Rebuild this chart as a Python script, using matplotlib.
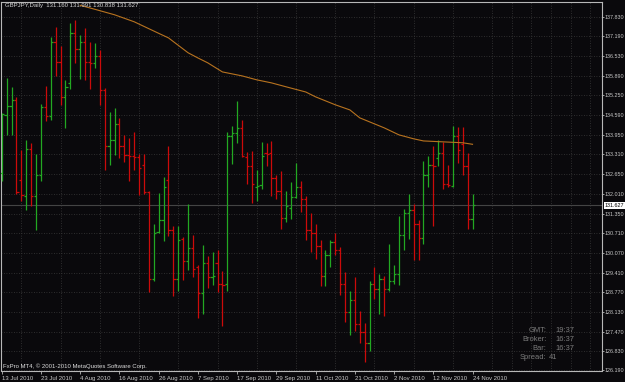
import numpy as np
import matplotlib
matplotlib.use("Agg")
import matplotlib.pyplot as plt
from matplotlib import transforms

# ---------------- data (GBPJPY daily, 13 Jul 2010 .. 24 Nov 2010) ----------------
opens = [132.68, 134.60, 134.90, 135.09, 132.46, 131.94, 133.47, 131.94, 132.63, 134.85,
         134.55, 136.98, 136.35, 135.20, 135.64, 137.28, 136.76, 136.98, 136.35, 136.32,
         136.54, 135.42, 133.58, 133.78, 134.30, 133.56, 133.29, 133.25, 133.21, 132.96,
         132.05, 129.20, 130.73, 131.13, 132.45, 130.82, 129.20, 130.51, 129.78, 130.22,
         129.61, 128.74, 129.72, 129.26, 129.72, 129.04, 129.04, 133.91, 134.00, 134.16,
         133.21, 132.90, 132.24, 132.30, 133.36, 133.34, 132.52, 132.10, 131.20, 131.53,
         131.89, 132.22, 131.83, 130.82, 130.71, 130.27, 129.31, 130.00, 130.40, 130.14,
         129.04, 128.10, 128.52, 127.73, 127.45, 127.09, 129.04, 128.87, 129.20, 128.87,
         129.15, 129.37, 130.64, 131.37, 131.46, 131.01, 130.55, 132.63, 132.96, 133.18,
         133.34, 132.32, 132.27, 133.91, 133.65, 132.92, 131.160]
highs = [134.65, 135.81, 135.51, 135.18, 133.43, 133.76, 133.67, 133.31, 134.96, 135.55,
         137.17, 137.50, 136.87, 135.75, 137.63, 137.72, 137.23, 137.45, 137.01, 136.96,
         136.74, 135.48, 134.68, 134.82, 134.49, 133.94, 133.83, 134.02, 133.32, 133.32,
         132.11, 131.02, 132.02, 132.54, 133.58, 130.93, 130.93, 130.58, 131.67, 130.66,
         129.67, 130.33, 129.97, 130.08, 130.14, 129.45, 134.05, 134.24, 135.04, 134.44,
         133.39, 133.42, 132.79, 133.72, 133.67, 133.75, 132.63, 132.74, 132.08, 132.38,
         133.01, 132.43, 131.92, 131.37, 131.02, 130.49, 130.16, 130.49, 130.71, 130.25,
         129.42, 128.79, 129.26, 128.14, 127.75, 129.15, 129.61, 129.37, 129.31, 130.35,
         129.67, 131.26, 131.50, 132.00, 131.67, 131.15, 133.07, 133.25, 133.56, 133.76,
         133.72, 132.96, 134.22, 134.19, 134.19, 133.36, 131.991]
lows = [132.41, 133.94, 133.94, 132.00, 131.75, 131.46, 131.59, 130.82, 132.41, 134.38,
        134.44, 135.86, 134.93, 134.16, 135.44, 136.30, 135.78, 135.75, 135.44, 136.13,
        134.93, 132.79, 132.96, 133.29, 133.18, 133.06, 132.41, 132.77, 131.97, 132.00,
        128.76, 129.12, 130.71, 130.44, 130.62, 128.65, 128.79, 129.18, 129.51, 129.26,
        127.92, 128.06, 128.90, 129.01, 128.76, 127.64, 128.79, 132.98, 133.67, 133.21,
        132.32, 131.70, 131.75, 132.16, 132.90, 131.94, 131.83, 130.84, 131.09, 131.17,
        131.86, 131.41, 130.47, 130.08, 129.86, 128.98, 128.98, 129.61, 130.00, 128.68,
        127.77, 127.37, 127.48, 127.09, 126.46, 126.82, 128.54, 128.06, 127.99, 128.79,
        129.03, 129.01, 130.14, 130.51, 129.81, 129.83, 130.35, 132.24, 130.95, 132.90,
        132.16, 132.22, 132.22, 133.01, 132.63, 130.84, 130.838]
closes = [134.63, 134.90, 135.09, 132.05, 131.97, 133.47, 131.94, 132.63, 134.85, 134.55,
          136.98, 136.35, 135.20, 135.51, 137.28, 136.76, 137.01, 136.35, 136.32, 136.54,
          135.42, 133.58, 133.78, 134.30, 133.56, 133.29, 133.25, 133.21, 132.85, 132.05,
          129.20, 130.71, 131.13, 132.24, 130.82, 129.20, 130.49, 129.78, 130.22, 129.53,
          128.74, 129.72, 129.26, 129.29, 129.04, 129.01, 133.91, 134.00, 134.16, 133.23,
          132.90, 132.33, 132.27, 133.23, 133.32, 132.52, 132.10, 131.20, 131.59, 131.89,
          132.22, 131.83, 130.82, 130.71, 130.27, 129.31, 130.00, 130.40, 130.14, 129.04,
          128.10, 128.52, 127.73, 127.45, 127.09, 129.04, 128.87, 129.20, 128.87, 129.15,
          129.37, 130.64, 131.37, 131.46, 131.01, 130.55, 132.63, 132.96, 132.92, 133.34,
          132.32, 132.30, 133.91, 133.45, 132.92, 131.17, 131.627]

# moving average : bar index -> price
ma_idx = [16, 19, 23, 27, 32, 34, 38, 40, 42, 45, 49, 52, 55, 58, 62, 64, 68, 71, 73,
          78, 81, 84, 86, 90, 94, 96]
ma_val = [138.20, 138.07, 137.89, 137.66, 137.28, 137.13, 136.64, 136.47, 136.31, 136.01,
          135.88, 135.75, 135.65, 135.52, 135.35, 135.19, 134.93, 134.76, 134.50,
          134.17, 133.94, 133.81, 133.74, 133.71, 133.68, 133.63]

date_pos = [0, 8, 16, 24, 32, 40, 48, 56, 64, 72, 80, 88, 96]
date_labels = ["13 Jul 2010", "23 Jul 2010", "4 Aug 2010", "16 Aug 2010", "26 Aug 2010",
               "7 Sep 2010", "17 Sep 2010", "29 Sep 2010", "11 Oct 2010", "21 Oct 2010",
               "2 Nov 2010", "12 Nov 2010", "24 Nov 2010"]

ytick_vals = [137.830, 137.190, 136.530, 135.890, 135.250, 134.590, 133.950, 133.310,
              132.650, 132.010, 131.350, 130.710, 130.070, 129.410, 128.770, 128.130,
              127.470, 126.830, 126.190]
ytick_labels = ["%.3f" % v for v in ytick_vals]

current_price = 131.627
title = "GBPJPY,Daily  131.160 131.991 130.838 131.627"
copyright_txt = "FxPro MT4, \u00a9 2001-2010 MetaQuotes Software Corp."
info_keys = ["GMT:", "Broker:", "Bar:", "Spread:"]
info_vals = ["19:37", "16:37", "16:37", "41"]

# ---------------- style ----------------
bg = "#0a090c"
up_col = "#22a822"
down_col = "#cc0a0a"
ma_col = "#b8731f"
grid_col = "#3a3a3a"
frame_col = "#b8b8b8"
txt_col = "#c8c8c8"
font = "Liberation Sans"
plt.rcParams["font.family"] = [font, "DejaVu Sans"]

W, H = 625, 382
fig = plt.figure(figsize=(W / 100, H / 100), dpi=100, facecolor=bg)
ax = fig.add_axes([1 / W, 1 - 370.5 / H, 601 / W, 368.5 / H])
ax.set_facecolor(bg)
ax.set_xlim(-0.15, 122.4)
ax.set_ylim(126.20, 138.31)

# bars
x = np.arange(len(opens))
o = np.array(opens); h = np.array(highs); l = np.array(lows); c = np.array(closes)
cols = [up_col if cc >= oo else down_col for oo, cc in zip(o, c)]
ax.vlines(x, l, h, colors=cols, lw=0.9, zorder=3)
ax.hlines(o, x - 0.45, x, colors=cols, lw=0.9, zorder=3)
ax.hlines(c, x, x + 0.45, colors=cols, lw=0.9, zorder=3)

# moving average
ax.plot(ma_idx, ma_val, color=ma_col, lw=0.8, zorder=4)

# current price line
ax.axhline(current_price, color="#444444", lw=0.8, zorder=1)

# grid
ax.set_yticks(ytick_vals)
ax.set_yticklabels(ytick_labels)
ax.set_xticks(date_pos)
ax.set_xticklabels(date_labels)
ax.set_xticks(np.arange(0, 124, 4), minor=True)
ax.grid(which="minor", axis="x", color=grid_col, lw=0.6, linestyle=(0, (1, 2)), zorder=0)
ax.grid(which="major", axis="y", color=grid_col, lw=0.6, linestyle=(0, (1, 2)), zorder=0)
ax.grid(which="major", axis="x", visible=False)

ax.yaxis.tick_right()
ax.tick_params(axis="y", which="both", direction="out", length=1.6, width=0.6,
               color=frame_col, labelsize=3.9, labelcolor=txt_col, pad=0.6)
ax.tick_params(axis="x", which="major", direction="out", length=2.5, width=0.6,
               color=frame_col, labelsize=4.3, labelcolor=txt_col, pad=1.2)
ax.tick_params(axis="x", which="minor", length=0)
for lbl in ax.get_xticklabels():
    lbl.set_horizontalalignment("left")

for s in ax.spines.values():
    s.set_color(frame_col)
    s.set_linewidth(0.8)

# current price tag on the price scale
blend = transforms.blended_transform_factory(ax.transAxes, ax.transData)
ax.text(1.0045, current_price, "%.3f" % current_price, transform=blend, ha="left",
        va="center", fontsize=3.9, color="#000000", clip_on=False, zorder=6,
        bbox=dict(boxstyle="square,pad=0.2", facecolor="#ffffff", edgecolor="none"))

# texts
fig.text(5 / W, 1 - 6 / H, title, ha="left", va="center", fontsize=4.3, color="#d4d4d4")
fig.text(3 / W, 1 - 366 / H, copyright_txt, ha="left", va="center", fontsize=4.3,
         color="#dcdcdc")
info_y = [330, 339.3, 348.3, 357.7]
info_vx = [555.5, 555.5, 555.5, 549.3]
for k, v, yy, vx in zip(info_keys, info_vals, info_y, info_vx):
    fig.text(546.5 / W, 1 - yy / H, k, ha="right", va="center", fontsize=5.4, color="#7c7c7c")
    fig.text(vx / W, 1 - yy / H, v, ha="left", va="center", fontsize=5.4, color="#7c7c7c")

fig.savefig("out.png", dpi=100, facecolor=bg)
